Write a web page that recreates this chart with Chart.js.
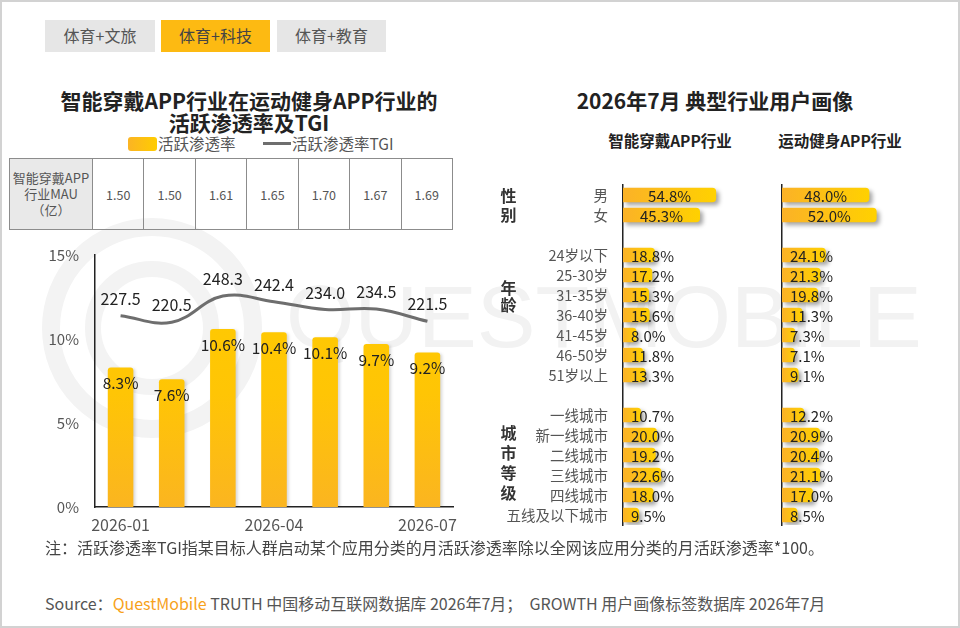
<!DOCTYPE html>
<html><head><meta charset="utf-8">
<script src="https://cdn.jsdelivr.net/npm/chart.js@4.4.1/dist/chart.umd.min.js"></script>
<style>
html,body{margin:0;padding:0;background:#fff;}
body{width:960px;height:628px;position:relative;overflow:hidden;font-family:"Noto Sans CJK SC","Microsoft YaHei",sans-serif;color:#333;}
#frame{position:absolute;left:0;top:0;width:956px;height:624px;border:2px solid #d2d2d2;z-index:5;pointer-events:none;}
.abs{position:absolute;}
.tab{position:absolute;top:20px;height:32px;line-height:31px;text-align:center;font-size:16px;color:#555;background:#e6e6e6;}
.tab.on{background:#fdba12;color:#444;}
#wm{position:absolute;left:286px;top:273px;font-family:"Liberation Sans",Arial,sans-serif;font-size:88px;line-height:88px;color:#f2f2f2;white-space:nowrap;z-index:0;}
.ring{position:absolute;border-radius:50%;border-style:solid;border-color:#f3f3f3;z-index:0;}
canvas{position:absolute;z-index:2;}
#ltitle{left:39px;top:89px;width:420px;text-align:center;font-weight:bold;font-size:21px;line-height:22px;color:#222;z-index:3;}
#rtitle{left:565px;top:88px;width:300px;text-align:center;font-weight:bold;font-size:21px;line-height:24px;color:#222;z-index:3;}
.sub{top:129px;width:200px;text-align:center;font-weight:bold;font-size:15.5px;line-height:22px;color:#222;z-index:3;}
.grp{left:500px;width:17px;text-align:center;font-weight:bold;font-size:16px;color:#333;z-index:3;}
#mau{position:absolute;left:9px;top:158px;width:444px;height:72px;border-collapse:collapse;table-layout:fixed;z-index:3;}
#mau td{border:1px solid #8c8c8c;text-align:center;font-size:12.5px;color:#555;padding:0;}
#mau td.h{background:#e9e9e9;font-size:13px;line-height:16px;color:#555;width:82px;}
#legend{left:0;top:132px;width:480px;height:22px;z-index:3;font-size:15.5px;color:#555;}
#note{left:45px;top:536px;font-size:16px;line-height:22px;color:#444;white-space:nowrap;z-index:3;}
#src{left:45px;top:592px;font-size:16px;line-height:22px;color:#555;white-space:nowrap;z-index:3;}
#src .qm{color:#f7a21b;}
</style></head>
<body>
<div id="frame"></div>
<div class="ring" style="left:42px;top:218px;width:184px;height:184px;border-width:18px;"></div>
<div class="ring" style="left:85px;top:261px;width:102px;height:102px;border-width:16px;"></div>
<div id="wm">QUESTMOBILE</div>

<div class="tab" style="left:45px;width:110px;">体育+文旅</div>
<div class="tab on" style="left:161px;width:109px;">体育+科技</div>
<div class="tab" style="left:277px;width:109px;">体育+教育</div>

<div id="ltitle" class="abs">智能穿戴APP行业在运动健身APP行业的<br>活跃渗透率及TGI</div>
<div id="legend" class="abs">
  <div class="abs" style="left:128px;top:5px;width:29px;height:14px;border-radius:3px;background:linear-gradient(90deg,#fbb424,#ffcc00);"></div>
  <div class="abs" style="left:158px;top:0;line-height:22px;">活跃渗透率</div>
  <div class="abs" style="left:263px;top:10px;width:28px;height:3px;background:#6e6e6e;"></div>
  <div class="abs" style="left:292px;top:0;line-height:22px;">活跃渗透率TGI</div>
</div>
<table id="mau"><tr id="mauRow"></tr></table>

<div id="rtitle" class="abs">2026年7月 典型行业用户画像</div>
<div class="abs sub" style="left:570px;">智能穿戴APP行业</div>
<div class="abs sub" style="left:740px;">运动健身APP行业</div>
<div class="abs grp" style="top:186px;line-height:19px;">性<br>别</div>
<div class="abs grp" style="top:279px;line-height:17px;">年<br>龄</div>
<div class="abs grp" style="top:422px;line-height:20px;">城<br>市<br>等<br>级</div>

<canvas id="c1" width="480" height="310" style="left:0;top:230px;"></canvas>
<canvas id="c2" width="295" height="360" style="left:480px;top:175px;"></canvas>
<canvas id="c3" width="175" height="360" style="left:775px;top:175px;"></canvas>

<div id="note" class="abs">注：活跃渗透率TGI指某目标人群启动某个应用分类的月活跃渗透率除以全网该应用分类的月活跃渗透率*100。</div>
<div id="src" class="abs">Source：<span class="qm">QuestMobile</span> TRUTH 中国移动互联网数据库 2026年7月；&nbsp; GROWTH 用户画像标签数据库 2026年7月</div>

<script>
// ---------- data ----------
const months = ['2026-01','2026-02','2026-03','2026-04','2026-05','2026-06','2026-07'];
const shownMonths = ['2026-01','2026-04','2026-07'];
const mauValues = [1.50, 1.50, 1.61, 1.65, 1.70, 1.67, 1.69];
const penetration = [8.3, 7.6, 10.6, 10.4, 10.1, 9.7, 9.2];
const tgi = [227.5, 220.5, 248.3, 242.4, 234.0, 234.5, 221.5];
const yTicks = [0, 5, 10, 15];

const genderLabels = ['男','女'];
const ageLabels = ['24岁以下','25-30岁','31-35岁','36-40岁','41-45岁','46-50岁','51岁以上'];
const cityLabels = ['一线城市','新一线城市','二线城市','三线城市','四线城市','五线及以下城市'];
const wearGender = [54.8, 45.3];
const fitGender = [48.0, 52.0];
const wearAge = [18.8, 17.2, 15.3, 15.6, 8.0, 11.8, 13.3];
const fitAge = [24.1, 21.3, 19.8, 11.3, 7.3, 7.1, 9.1];
const wearCity = [10.7, 20.0, 19.2, 22.6, 18.0, 9.5];
const fitCity = [12.2, 20.9, 20.4, 21.1, 17.0, 8.5];

// ---------- table ----------
const FONT = '"Noto Sans CJK SC","Microsoft YaHei",sans-serif';
const row = document.getElementById('mauRow');
row.innerHTML = '<td class="h">智能穿戴APP<br>行业MAU<br>（亿）</td>' + mauValues.map(v => '<td>' + v.toFixed(2) + '</td>').join('');

// ---------- plugins ----------
const shadowPlugin = {
  id: 'shadowPlugin',
  beforeDatasetDraw(chart, args, opts) {
    const ds = chart.data.datasets[args.index];
    if ((ds.type || chart.config.type) !== 'bar') return;
    const c = chart.ctx; c.save();
    c.shadowColor = opts.color; c.shadowBlur = opts.blur; c.shadowOffsetX = opts.dx; c.shadowOffsetY = opts.dy;
  },
  afterDatasetDraw(chart, args) {
    const ds = chart.data.datasets[args.index];
    if ((ds.type || chart.config.type) !== 'bar') return;
    chart.ctx.restore();
  }
};

const comboLabels = {
  id: 'comboLabels',
  afterDatasetsDraw(chart) {
    const c = chart.ctx; c.save();
    c.fillStyle = '#222'; c.textAlign = 'center'; c.textBaseline = 'middle';
    chart.data.datasets.forEach((ds, di) => {
      const meta = chart.getDatasetMeta(di);
      meta.data.forEach((el, i) => {
        const v = ds.data[i];
        if (ds.type === 'bar') {
          c.font = '15.5px ' + FONT;
          c.fillText(v.toFixed(1) + '%', el.x, el.y + 16);
        } else {
          c.font = '16px ' + FONT;
          c.fillText(v.toFixed(1), el.x, el.y - 17);
        }
      });
    });
    c.restore();
  }
};

// ---------- left combo chart ----------
new Chart(document.getElementById('c1'), {
  data: {
    labels: months,
    datasets: [
      { type: 'line', data: tgi, yAxisID: 'y1', borderColor: '#6e6e6e', borderWidth: 3, tension: 0.4,
        pointRadius: 0, fill: false, order: 0 },
      { type: 'bar', data: penetration, yAxisID: 'y', barPercentage: 0.5, categoryPercentage: 1,
        borderRadius: 3, borderSkipped: 'bottom', order: 1,
        backgroundColor: ctx => {
          const ca = ctx.chart.chartArea; if (!ca) return '#ffc800';
          const g = ctx.chart.ctx.createLinearGradient(0, ca.top, 0, ca.bottom);
          g.addColorStop(0, '#ffcc00'); g.addColorStop(0.55, '#ffc505'); g.addColorStop(1, '#fbb520');
          return g;
        } }
    ]
  },
  options: {
    responsive: false, animation: false,
    layout: { padding: { top: 17, right: 27, left: 0, bottom: 0 } },
    plugins: { legend: { display: false }, tooltip: { enabled: false },
      shadowPlugin: { color: 'rgba(0,0,0,0.15)', blur: 3, dx: 2, dy: 1 } },
    scales: {
      x: {
        grid: { display: false, drawTicks: false },
        border: { display: true, color: '#222', width: 1.5 },
        ticks: { autoSkip: false, maxRotation: 0, padding: 8, color: '#555', font: { size: 16, family: FONT },
          callback: (v, i) => shownMonths.includes(months[i]) ? months[i] : '' },
        afterFit: s => { s.height = 33; }
      },
      y: {
        min: yTicks[0], max: yTicks[yTicks.length - 1],
        afterBuildTicks: s => { s.ticks = yTicks.map(v => ({ value: v })); },
        ticks: { padding: 16, color: '#555', font: { size: 15, family: FONT }, callback: v => v + '%' },
        grid: { display: false, drawTicks: false },
        border: { display: true, color: '#222', width: 1.5 },
        afterFit: s => { s.width = 95; }
      },
      y1: { display: false, min: 24, max: 292 }
    }
  },
  plugins: [shadowPlugin, comboLabels]
});

// ---------- right horizontal bar charts ----------
const rowLabels = [...genderLabels, '', ...ageLabels, '', ...cityLabels];
const wearRows = [...wearGender, null, ...wearAge, null, ...wearCity];
const fitRows = [...fitGender, null, ...fitAge, null, ...fitCity];

const hbarLabels = {
  id: 'hbarLabels',
  afterDatasetsDraw(chart) {
    const c = chart.ctx; c.save();
    c.fillStyle = '#222'; c.textBaseline = 'middle'; c.font = '15px ' + FONT;
    const ds = chart.data.datasets[0];
    chart.getDatasetMeta(0).data.forEach((el, i) => {
      const v = ds.data[i]; if (v == null) return;
      const t = v.toFixed(1) + '%';
      const w = c.measureText(t).width;
      const len = el.x - el.base;
      if (w + 6 <= len) { c.textAlign = 'center'; c.fillText(t, (el.x + el.base) / 2, el.y + 1); }
      else { c.textAlign = 'left'; c.fillText(t, el.base + 8, el.y + 1); }
    });
    c.restore();
  }
};

function hbar(id, values, showCats, xmax, yWidth) {
  return new Chart(document.getElementById(id), {
    type: 'bar',
    data: { labels: rowLabels, datasets: [{
      data: values, barPercentage: 0.72, categoryPercentage: 1, borderRadius: 4, borderSkipped: 'start',
      backgroundColor: ctx => {
        const ch = ctx.chart, ca = ch.chartArea;
        if (!ca || ctx.raw == null) return '#fdbe12';
        const x1 = ch.scales.x.getPixelForValue(ctx.raw);
        const g = ch.ctx.createLinearGradient(ca.left, 0, Math.max(x1, ca.left + 2), 0);
        g.addColorStop(0, '#fbb227'); g.addColorStop(1, '#ffd100');
        return g;
      }
    }] },
    options: {
      indexAxis: 'y', responsive: false, animation: false,
      layout: { padding: { top: 10, bottom: 10, left: 0, right: 0 } },
      plugins: { legend: { display: false }, tooltip: { enabled: false },
        shadowPlugin: { color: 'rgba(0,0,0,0.35)', blur: 4, dx: 3, dy: 3 } },
      scales: {
        x: { display: false, min: 0, max: xmax },
        y: {
          grid: { display: false, drawTicks: false },
          border: { display: true, color: '#222', width: 1.5 },
          ticks: { display: showCats, autoSkip: false, padding: 15, color: '#555', font: { size: 14.5, family: FONT } },
          afterFit: s => { s.width = yWidth; s.paddingTop = 0; s.paddingBottom = 0; }
        }
      }
    },
    plugins: [shadowPlugin, hbarLabels]
  });
}
hbar('c2', wearRows, true, 89.4, 143);
hbar('c3', fitRows, false, 92.3, 7);
</script>
</body></html>
